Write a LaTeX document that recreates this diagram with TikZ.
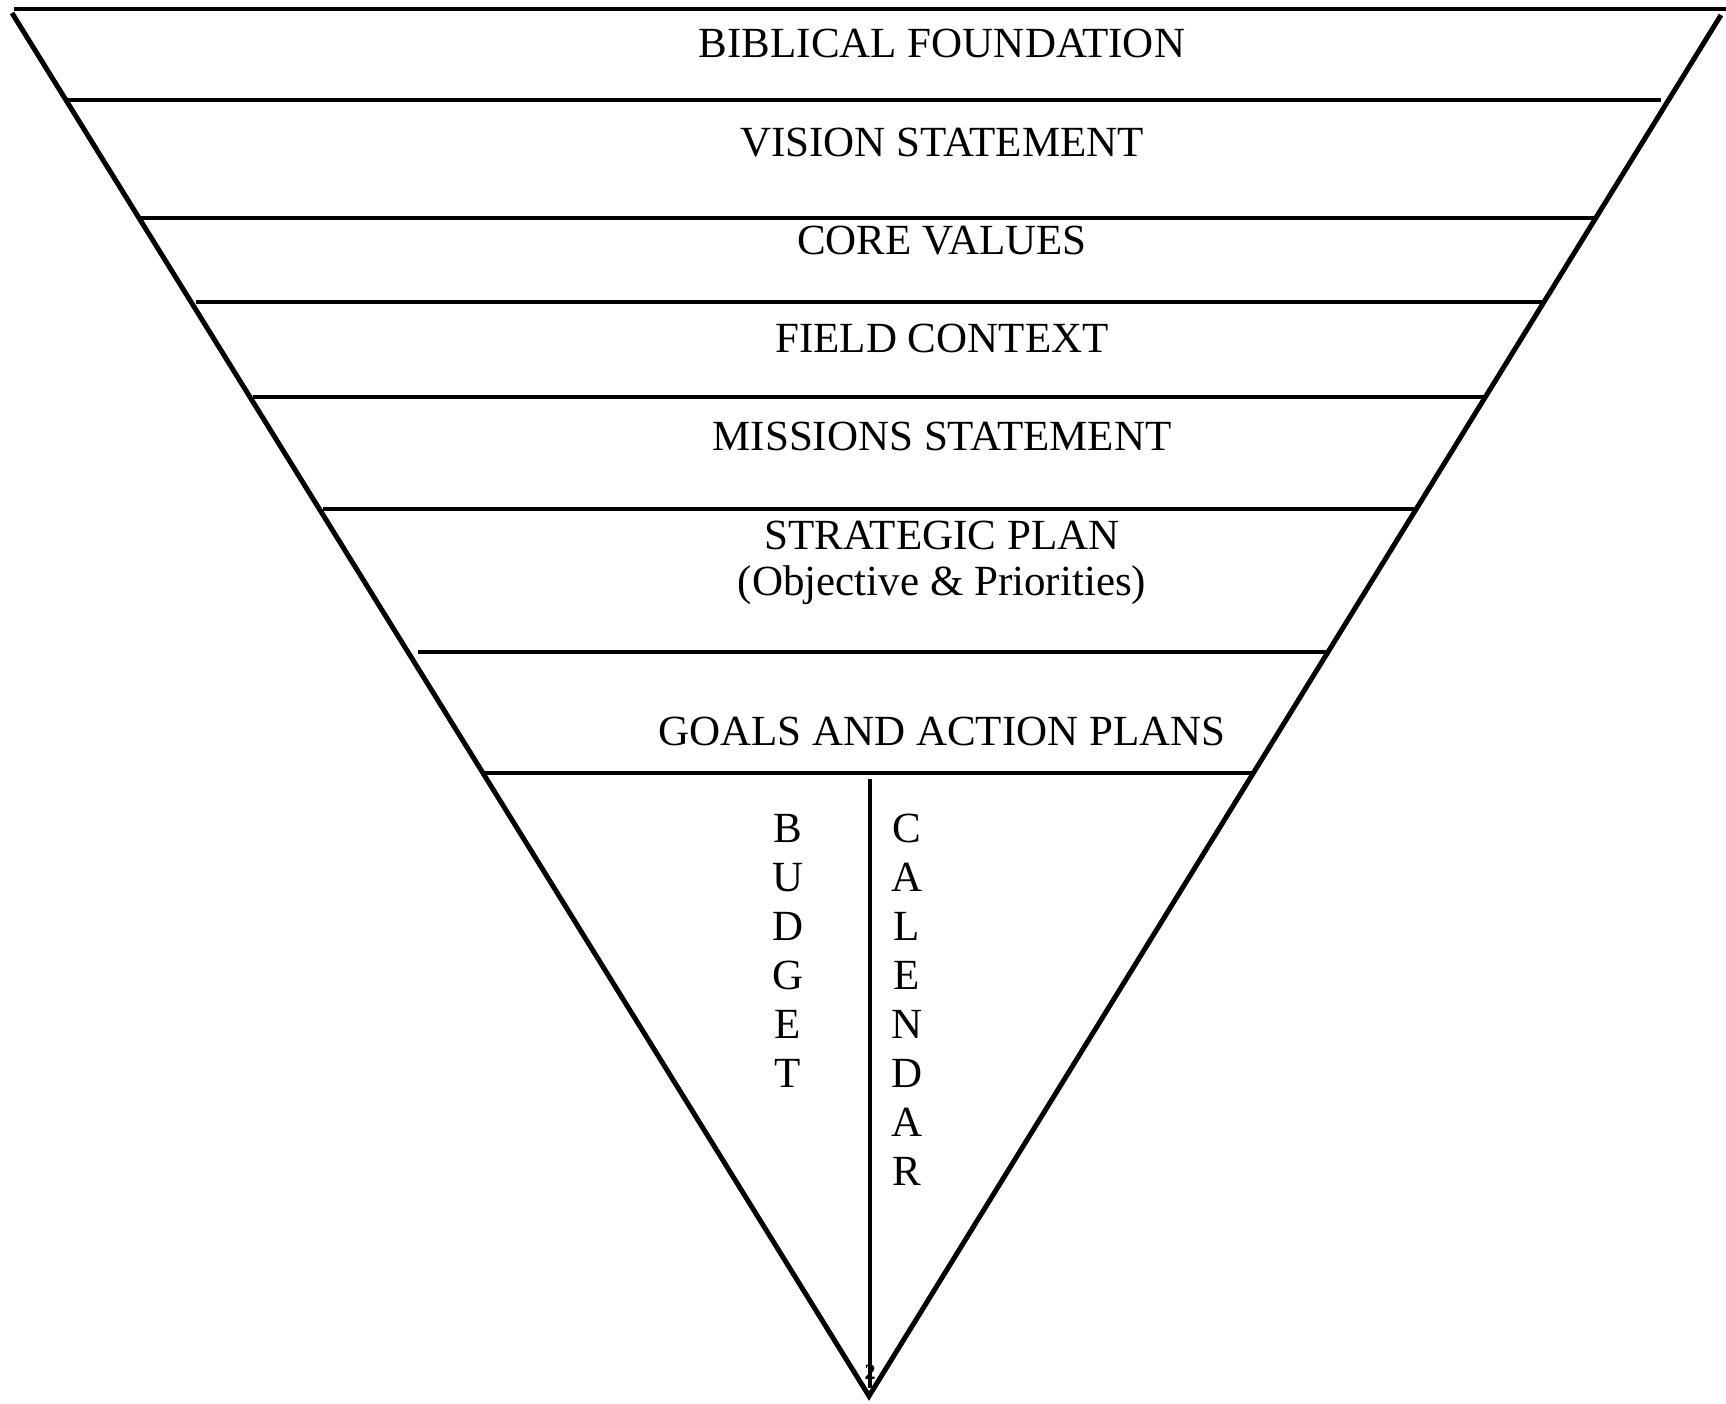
\documentclass[tikz,border=0pt]{standalone}
\usepackage{fontspec}
\setmainfont{Liberation Serif}
\begin{document}
\begin{tikzpicture}[x=0.5pt,y=-0.5pt,
  edge/.style={line width=2.5pt, line join=miter},
  bar/.style={line width=2.4pt},
  lbl/.style={anchor=base, inner sep=0pt, font=\fontsize{21.5}{26}\selectfont},
  tiny/.style={anchor=base, inner sep=0pt, font=\fontsize{11}{13}\selectfont\bfseries}]
\useasboundingbox (0,0) rectangle (1726,1404);
% outline
\coordinate (TL) at (12,13);
\coordinate (TR) at (1721,15);
\coordinate (B) at (869,1396);
\draw[edge] (TL) -- (B) -- (TR);
\coordinate (top1) at (14,9);
\coordinate (top2) at (1726,9);
\draw[bar] (top1) -- (top2);
% horizontal dividers
\foreach \i/\y/\xa/\xb in {1/100/66/1661, 2/218/141/1596, 3/302/196/1544, 4/397/253/1486,
                          5/509/323/1418, 6/652/418/1330, 7/773/485/1255}{
  \coordinate (h\i a) at (\xa,\y);
  \coordinate (h\i b) at (\xb,\y);
  \draw[bar] (h\i a) -- (h\i b);
}
% vertical divider
\coordinate (v1) at (870,779);
\coordinate (v2) at (870,1388);
\draw[bar] (v1) -- (v2);
% labels
\node[lbl] (t1) at (942,57) {BIBLICAL FOUNDATION};
\node[lbl] (t2) at (942,156) {VISION STATEMENT};
\node[lbl] (t3) at (942,254) {CORE VALUES};
\node[lbl] (t4) at (942,352) {FIELD CONTEXT};
\node[lbl] (t5) at (942,450) {MISSIONS STATEMENT};
\node[lbl] (t6) at (942,549) {STRATEGIC PLAN};
\node[lbl] (t7) at (942,595) {(Objective \& Priorities)};
\node[lbl] (t8) at (942,745) {GOALS AND ACTION PLANS};
\foreach \l [count=\k] in {B,U,D,G,E,T}{
  \node[lbl] (b\k) at (788,{842.5+49*(\k-1)}) {\l};
}
\foreach \l [count=\k] in {C,A,L,E,N,D,A,R}{
  \node[lbl] (c\k) at (907,{842.5+49*(\k-1)}) {\l};
}
\node[tiny] (pg) at (870,1379) {2};
\end{tikzpicture}
\end{document}
